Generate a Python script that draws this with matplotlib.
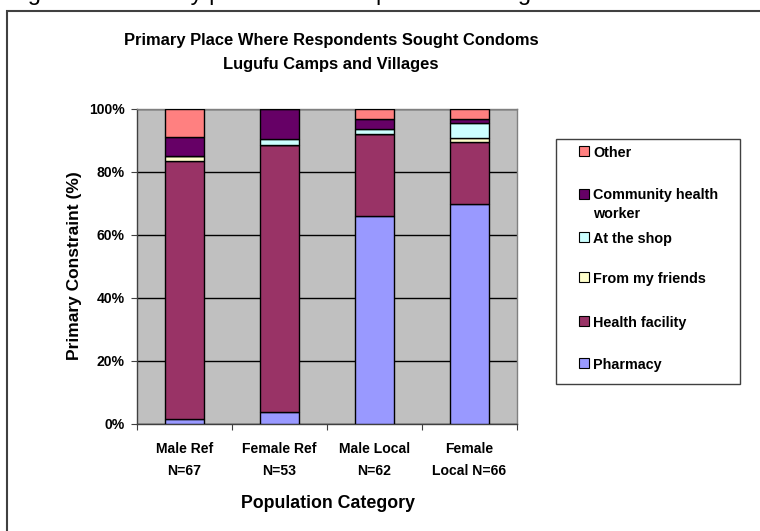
#!/usr/bin/env python3
"""Stacked percentage bars: primary place respondents sought condoms."""

import matplotlib

matplotlib.use("Agg")
import matplotlib.pyplot as plt
from matplotlib.patches import Rectangle

W, H = 760, 531

CATEGORIES = ["Male Ref\nN=67", "Female Ref\nN=53", "Male Local\nN=62", "Female\nLocal N=66"]
SERIES = ["Pharmacy", "Health facility", "From my friends", "At the shop",
          "Community health\nworker", "Other"]
PHARMACY = [1.5, 3.8, 66.1, 69.7]
HEALTH_FACILITY = [82.1, 84.9, 25.8, 19.7]
FRIENDS = [1.5, 0.0, 0.0, 1.5]
SHOP = [0.0, 1.9, 1.6, 4.5]
CHW = [6.0, 9.4, 3.2, 1.5]
OTHER = [8.9, 0.0, 3.3, 3.1]
COLORS = ["#9999FF", "#993366", "#FFFFCC", "#CCFFFF", "#660066", "#FF8080"]
YTICKS = [0, 20, 40, 60, 80, 100]

plt.rcParams["font.family"] = ["Liberation Sans", "DejaVu Sans"]
plt.rcParams["font.weight"] = "bold"

SMALL = 10.1


def fx(px):
    return px / W


def fy(py):
    return 1 - py / H


fig = plt.figure(figsize=(W / 100, H / 100), dpi=100)
fig.patch.set_facecolor("white")

# outer chart frame (runs off the right and bottom edges)
fig.add_artist(Rectangle((fx(7), -0.1), 1.2, fy(11) + 0.1, transform=fig.transFigure,
                         fill=False, edgecolor="#404040", linewidth=1.5))

# cropped caption line from the document above the chart
fig.text(fx(8), 1.0 + 0.4 / H, "Figure 10: Primary place where respondents sought condoms",
         fontsize=17, fontweight="normal", va="baseline", ha="left", color="black")

ax = fig.add_axes([fx(137), fy(423.5), fx(517) - fx(137), fy(109) - fy(423.5)])
ax.set_facecolor("#C0C0C0")

values = [PHARMACY, HEALTH_FACILITY, FRIENDS, SHOP, CHW, OTHER]
x = list(range(len(CATEGORIES)))
bottom = [0.0] * len(CATEGORIES)
for vals, color in zip(values, COLORS):
    ax.bar(x, vals, width=0.41, bottom=bottom, color=color, edgecolor="black",
           linewidth=1.0, zorder=3)
    bottom = [b + v for b, v in zip(bottom, vals)]

ax.set_xlim(-0.5, len(CATEGORIES) - 0.5)
ax.set_ylim(0, 100)
ax.set_yticks(YTICKS)
ax.set_yticklabels([f"{t}%" for t in YTICKS], fontsize=SMALL, fontweight="bold")
ax.yaxis.grid(True, color="black", linewidth=1.0, zorder=1)
ax.set_axisbelow(True)

ax.set_xticks([i - 0.5 for i in range(len(CATEGORIES) + 1)])
ax.set_xticklabels([])
ax.set_xticks(x, minor=True)
ax.set_xticklabels(CATEGORIES, minor=True, fontsize=SMALL, fontweight="bold",
                   linespacing=1.8)
ax.tick_params(axis="x", which="minor", length=0, pad=13)
ax.tick_params(axis="x", which="major", direction="out", length=4, color="#404040")
ax.tick_params(axis="y", direction="out", length=4, color="#404040", pad=5)

for side in ("top", "right"):
    ax.spines[side].set_color("#808080")
for side in ("left", "bottom"):
    ax.spines[side].set_color("#404040")
for s in ax.spines.values():
    s.set_linewidth(1.0)

fig.text(fx(328), fy(503), "Population Category", fontsize=12.8, fontweight="bold",
         ha="center", va="center")
fig.text(fx(75), fy(266), "Primary Constraint (%)", fontsize=12.5, fontweight="bold",
         ha="center", va="center", rotation=90)

fig.text(fx(331), fy(40), "Primary Place Where Respondents Sought Condoms",
         fontsize=11.9, fontweight="bold", ha="center", va="center")
fig.text(fx(331), fy(65), "Lugufu Camps and Villages",
         fontsize=11.9, fontweight="bold", ha="center", va="center")

# legend box drawn Excel-style
fig.add_artist(Rectangle((fx(556), fy(384)), fx(740) - fx(556), fy(139) - fy(384),
                         transform=fig.transFigure, facecolor="white",
                         edgecolor="#404040", linewidth=1.0))
legend_rows = [("Other", 151), ("Community health\nworker", 194), ("At the shop", 237),
               ("From my friends", 277), ("Health facility", 321), ("Pharmacy", 363)]
legend_colors = dict(zip(SERIES, COLORS))
for label, ypx in legend_rows:
    fig.add_artist(Rectangle((fx(579), fy(ypx + 5)), fx(10), 10 / H,
                             transform=fig.transFigure, facecolor=legend_colors[label],
                             edgecolor="black", linewidth=0.8))
    for k, line in enumerate(label.split("\n")):
        fig.text(fx(593), fy(ypx + 18 * k), line, fontsize=SMALL + 0.3, fontweight="bold",
                 ha="left", va="center_baseline")

fig.savefig("out.png", dpi=100)
